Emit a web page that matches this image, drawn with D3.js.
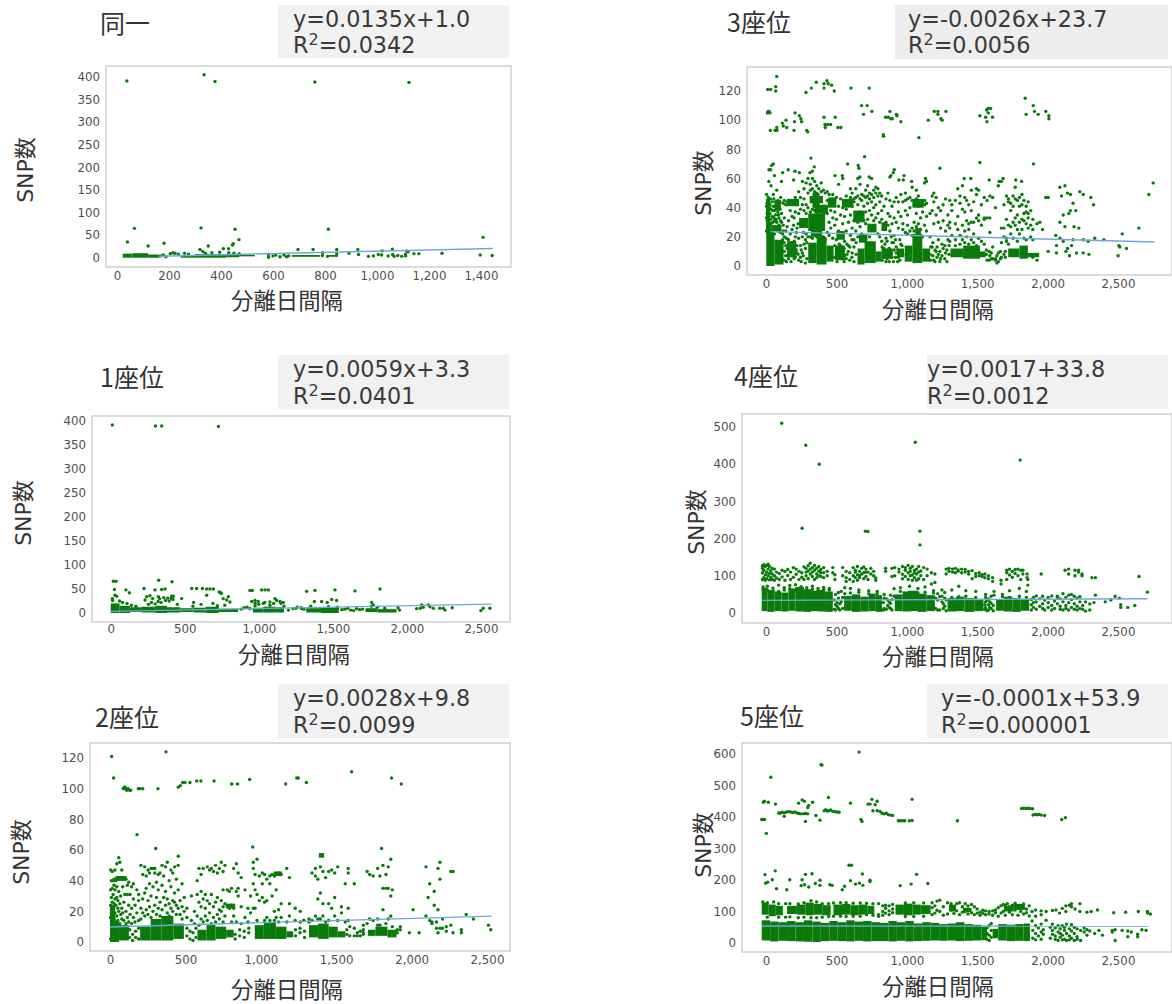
<!DOCTYPE html>
<html lang="ja">
<head>
<meta charset="UTF-8">
<title>分離日間隔とSNP数</title>
<script src="https://d3js.org/d3.v7.min.js"></script>
<style>
  body { margin: 0; background: #fff; }
  svg { display: block; }
  .tick text { font-family: "DejaVu Sans", sans-serif; font-size: 11.8px; fill: #4d4d4d; }
  .head { font-family: "Noto Sans CJK JP", sans-serif; fill: #333; }
  .eq { font-family: "DejaVu Sans", sans-serif; font-size: 22.3px; fill: #3a3a3a; }
</style>
</head>
<body>
<div id="chart"></div>
<script>
// Values. Each scatter row is [x, y, y, ...]; each solid row is
// [x0, x1, y0, y1] for the areas where dots overplot into solid green.
var xTicksA = [0, 200, 400, 600, 800, 1000, 1200, 1400];
var xTicksB = [0, 500, 1000, 1500, 2000, 2500];
var yTicks400 = [0, 50, 100, 150, 200, 250, 300, 350, 400];
var yTicks120 = [0, 20, 40, 60, 80, 100, 120];
var yTicks500 = [0, 100, 200, 300, 400, 500];
var yTicks600 = [0, 100, 200, 300, 400, 500, 600];

var titles = ["同一", "1座位", "2座位", "3座位", "4座位", "5座位"];
var equations = ["y=0.0135x+1.0", "y=0.0059x+3.3", "y=0.0028x+9.8", "y=-0.0026x+23.7", "y=0.0017+33.8", "y=-0.0001x+53.9"];
var r2Values = ["0.0342", "0.0401", "0.0099", "0.0056", "0.0012", "0.000001"];

var trend0 = [[160, 3.2], [1445, 20.5]];
var trend1 = [[0, 3.3], [2570, 18.5]];
var trend2 = [[0, 9.8], [2530, 16.9]];
var trend3 = [[30, 23.6], [2760, 16.5]];
var trend4 = [[0, 33.8], [2740, 38.5]];
var trend5 = [[0, 53.9], [2750, 53.6]];

var solid0 = [[22,60,0,9],[60,120,0,10],[120,165,0,7],[245,300,0,6],[300,420,0,8],[420,470,1,8],[470,530,3,6],[672,780,2,6],[812,850,2,6]];
var dots0 = [[38,391],[335,405],[377,390],[761,389],[1123,388],[67,65],[323,66],[454,63],[813,63],[40,35],[120,26],[181,32],[469,40],[1408,45],
[351,26],[319,18],[409,20],[429,20],[444,28],[447,31],[696,18],[754,18],[845,18],[926,18],[929,7],[892,10],[1020,15],[1059,19],[1114,15],[1120,13],[1110,4,8],
[1142,9],[1161,9],[1250,10],[1397,6],[1443,5],[791,11],[223,10],[236,8],[178,6],[188,2],[169,4],[583,7,1],[611,6],[627,2],[642,6],[652,2],[967,3],[986,4],[1005,7],
[1018,6],[1043,4],[1066,3],[1080,5],[1095,3],[1060,7],[600,4],[660,4],[845,9],[810,3],[790,5],[260,10],[205,9],[215,11],[275,8],[330,14],[365,11],[395,12],[340,10],[430,11],[450,10],[470,9]];

var solid1 = [[0,60,0,20],[60,130,0,15],[130,210,2,12],[210,300,1,13],[300,380,0,15],[380,470,1,12],[470,560,2,10],[560,640,1,11],[640,730,0,13],[730,860,2,9],[960,1030,1,11],[1030,1110,1,13],[1110,1170,1,12],[1320,1420,1,10],[1420,1540,0,11],[1720,1800,2,10],[1800,1930,1,8]];
var dots1 = [[11,391],[302,389],[344,389],[727,388],[18,66],[36,66],[324,68],[414,65],[225,51],[299,48],[344,49],[367,50],[25,49],[103,48],[126,42],[547,51],[580,51],[619,51],
[648,50],[670,50],[693,50],[733,44],[747,41],[940,47],[956,47],[1019,48],[1042,48],[1064,48],[1323,45],[1379,47],[1514,48],[1649,46],[1818,50],
[243,34],[232,27],[265,36],[283,30],[322,34],[330,30],[358,32],[412,35],[423,35],[410,30],[385,31],[479,30],[11,30],[29,37],[40,35],[13,26],[648,37],[738,42],[760,30],[794,34],[783,27],[805,23],
[952,24],[974,26],[996,24],[1030,20],[1109,30],[1120,26],[1143,24],[1165,22],[1375,24],[1424,24],[1462,22],[1492,28],[1525,26],[1762,22],[1773,17],[2099,17],[2144,17],
[2110,12],[2155,13],[2178,10],[2222,10],[2245,10],[2306,11],[2499,5],[2515,10],[2560,10],[2065,9],[2090,10],[2257,6],
[60,25],[80,22],[110,20],[140,16],[170,14],[255,18],[275,22],[300,19],[320,24],[340,22],[370,26],[395,25],[420,28],[410,33],[450,18],[560,22],[555,14],[610,18],[690,20],[720,15],[770,16],
[920,12],[975,20,15],[1000,18],[1040,22],[1075,16,23],[1100,20],[1150,20],[1170,14],[1200,6],[1250,10],[1290,9],[1580,8],[1620,6],[1640,5],[1680,7],[1950,6],[1940,11],[1760,14],[1800,12],[1850,10],
[1230,9],[1260,12],[1285,11],[1305,8],[1560,7],[1600,10],[1660,9],[1700,8],[880,8],[900,11],[940,9],[1530,12],[1350,14],[1470,13]];

var solid2 = [[0,60,0,13],[60,125,1,11],[0,35,13,24],[200,270,1,10],[270,340,1,15],[340,420,1,17],[420,490,2,12],[580,640,1,8],[640,700,1,11],[700,770,2,10],[770,820,3,8],[960,1020,2,11],[1020,1100,2,13],[1100,1170,2,10],[1170,1215,3,7],[1320,1380,3,11],[1380,1450,2,12],[1450,1510,3,10],[1510,1560,3,7],[1710,1760,4,8],[1760,1840,4,10],[1840,1900,3,8],[1385,1420,55,58],[35,110,40,43],[775,830,22,25],[1085,1140,43,46]];
var dots2 = [[11,121],[371,124],[24,107],[179,70],[303,61],[453,56],[946,62],[1801,61],
[88,100],[95,101],[100,101],[105,100],[110,99],[120,100],[130,99],[137,99],[188,100],[199,100],[217,100],[318,100],[453,101],[467,102],[482,104],[497,104],[530,104],[575,105],[603,105],[690,105],[807,103],[846,103],[926,106],[1165,103],[1238,107],[1249,107],[1302,104],[1602,111],[1867,107],[1932,103],
[4,2,16,24,47,34],[9,13,21,29,40],[15,18,26,35,46],[21,12,22,31,40],[27,15,25,37,41],[33,19,28,34,47],[39,13,24,40],[45,17,29,36,51],[52,14,22,41,27],[58,20,33,55],[65,12,25,41,52],[71,18,30,42],[78,15,22,41,47],[84,19,36,42],[92,14,26,41],[98,31,42],[106,12,20,41],[115,16,31,37],[124,13,24,39],[133,18,31],[143,12,22,36],[155,16,28,38],[166,13,24],[178,19,34],[190,14,27,31],
[205,15,22,50],[217,19,28,44],[230,17,32,49],[240,21,35,43],[252,18,27,47],[262,23,38,45],[272,16,30,48],[285,20,36,48],[297,24,45,48],[308,18,29,39],[320,22,34,44],[332,17,26,45],[345,21,37,50],[356,16,29,43],[368,24,33,49],[380,19,28,52],[392,17,25,40],[404,22,36,47],[416,20,27,45],[428,26,32,49],[440,18,24,41],[452,22,34,50],[465,18,27],[478,15,23,38],[492,20,29],[510,16,22],
[540,14,30],[560,12,20],[578,17,31,40],[590,11,26,48],[604,15,23,44,33],[618,13,28,48],[632,17,22,31],[645,14,27,49],[660,19,25,47],[672,12,31,48],[686,16,23,46],[700,13,26,50],[712,18,29,45],[725,15,21,48],[738,20,27,52],[750,13,23,34,46],[762,17,25,50],[778,23,24,34],[792,22,23,33],[806,24,13,35],[820,17,22,48],[838,13,33,51],[850,30,35,45],[870,12,23,42],[895,16,34],
[915,13,22],[932,19,30],[950,38,48,52,22],[962,34,22,44],[975,14,31,54],[990,27,43],[1010,29,45,38],[1025,44,26,14],[1040,41,16,27],[1060,43,38,14],[1075,44,30],[1090,43,20,14],[1102,44,16,34],[1118,45,13,21],[1135,44,16,25],[1172,48,13],[1190,42,17,25],[1228,14,22],[1262,20,13],[1285,14,14],[1320,15,13],
[1340,45,14],[1362,43,17,48],[1378,41,15,28],[1395,49,15,32],[1412,46,25,17],[1430,42,13],[1450,46,25,14],[1470,47,22],[1490,45,17,29],[1510,49,14],[1535,23,19],[1560,38,13],[1580,45,48,22,14],[1620,38,9,4],[1660,4,7],[1680,6,11],[1705,46,12],[1722,44,15],[1745,43,14],[1775,48,15,11],[1790,43,11],[1810,50,21,35],[1830,44,35,12],[1845,35,49,15],[1862,30,54,17],[1872,34,10],[1905,8,6],[1925,8,10],
[1985,6],[2010,21],[2050,6],[2095,49,17],[2110,29],[2120,14,38],[2135,13,12],[2150,33,24],[2165,13,9],[2175,48,21,6],[2188,52,41,9],[2205,15,9],[2230,10,7],[2260,46,11],[2275,46,6],[2330,6,8],[2362,18],[2410,15],[2510,11],[2525,8],
[130,3,8],[150,1,5],[170,7,3],[190,2,9],[510,4,9],[530,2,7],[550,6,1],[570,3,9],[830,5,2],[860,8,4],[890,3,7],[920,6,9],[1230,4,8],[1260,6,9],[1290,3,7],[1570,5,8],[1590,4,10],[1640,4,6],[1680,5,8]];

var solid3 = [[2,60,0,22],[60,125,1,18],[0,40,22,30],[40,110,24,28],[0,30,30,46],[60,105,38,45],[150,215,6,17],[150,235,41,46],[300,360,2,16],[360,430,1,20],[430,480,3,14],[320,400,20,24],[235,300,26,33],[300,420,24,36],[345,440,36,42],[310,405,43,48],[330,380,40,50],[440,500,40,47],[490,560,4,14],[500,560,18,24],[540,620,40,46],[620,700,30,38],[650,700,1,12],[700,780,2,17],[780,820,3,10],[720,785,23,29],[660,720,16,22],[820,900,5,12],[820,860,24,30],[930,980,6,12],[985,1040,3,14],[1040,1110,2,22],[1110,1165,3,12],[1060,1100,22,26],[1040,1120,40,46],[1310,1400,6,12],[1400,1520,5,14],[1520,1560,6,10],[1720,1800,6,12],[1800,1860,5,14],[1860,1940,6,9]];
var dots3 = [[76,130],[12,121],[33,121],[69,123,120],[284,119],[322,122],[357,126],[412,122,125],[433,127],[442,125],[466,124],[485,120],[603,122],[733,122],[679,110],[719,110],[693,104],[752,106],
[10,105],[15,106],[22,106],[28,105],[31,93],[64,93],[76,95],[78,93],[123,96],[116,98],[142,100],[147,95],[199,93],[203,99],[206,105],[237,103],[248,101],[253,99],[289,93],[296,92],
[412,102],[419,97],[421,95],[438,97],[459,97],[492,102],[511,95],[532,95],[833,90],[835,89],[849,102],[868,102],[887,101],[897,101],[880,106],[926,104],[930,103],[958,99],
[1086,88],[1152,100],[1195,106],[1221,106,104],[1278,106],[1242,101],[1251,100],[1519,103],[1567,107],[1576,108],[1595,108],[1578,105],[1560,102],[1609,102],[1569,99],
[1841,115],[1848,104],[1898,110],[1907,106],[1933,104],[1987,106],[2009,103,101],
[319,74],[700,75],[580,70],[655,69],[1519,71],[1900,70],[1235,67],[52,70],[40,69],[21,66],[33,66],[158,66],[118,64],[206,65],[237,64],[343,68],[329,65],[312,64],[490,62],[542,62],[660,67],[911,66],[887,62],[904,64],[880,61],[980,62],[944,59],[667,61],[733,61],[1133,60],[1140,58],[1034,58],[975,59],[1408,60],[1455,60],[1585,59],[1684,60],[1656,58],[1774,59],[1815,58],
[1945,30],[1964,25],[1987,47],[2004,47],[2087,54,30],[2123,55,27],[2099,48],[2141,50],[2162,49,38],[2229,51],[2253,49,18,9],[2307,47],[2326,42],[2181,43,18],[2200,38],[2151,36],[2111,35,17],[2188,27],[2222,26],[2058,21],[2087,19],[2063,14,9],[2004,10],[2130,10],[2142,12],[2155,7],[2170,14],[2205,9],[2293,8],[2288,17],[2335,19],[2400,18],[2530,22],[2648,26],[2719,49],[2750,57],[2506,14],[2513,13],[2560,12],[2501,7],
[4,24,33,41,49],[12,27,38,45],[20,22,31,44,58],[28,25,36,42],[36,29,39,55],[44,23,34,44],[52,27,41,49],[60,22,31,38,62],[68,26,35,44],[76,30,42,52],[84,24,37,45],[92,28,33,41],[100,23,39,44],[110,30,36,58],[122,24,43,28],[130,33,45,20,10],[140,42,24,14,7],[150,44,27,12],[160,31,45,5,18],[172,38,22,44,10],[185,25,34,7,16],[196,43,28,12,59],[208,20,37,6,47],[220,26,42,14,9],[232,36,19,51,4],
[245,39,14,47,6],[258,42,20,58,9],[270,38,15,46,53],[285,36,22,42,57],[298,40,20,50,60],[315,37,20,52,56],[330,19,39,53,60],[345,38,41,51,58],[360,35,20,50,55],[375,37,22,41,53],[392,39,19,51,57],[408,36,20,41,52],[420,40,18,50],[435,36,23,45,51],[448,30,44,49,21],[460,38,26,45],[474,43,33,49,19],[488,28,37,44],[500,32,18,47,9],[515,24,41,56,6],[530,35,14,46,10],[545,29,21,40,60],[558,17,34,44,7],[570,24,39,5,48],[585,14,30,43,10],
[600,21,35,47,53],[612,9,26,41,50],[625,18,31,44,46],[638,24,36,47,53],[652,20,30,42,48,60],[668,27,37,46,56],[680,22,33,45,49],[695,18,31,41,48],[708,29,37,47,52],[722,32,43,48,55],[735,20,38,46,50],[750,35,44,49,60],[765,31,40,47,52],[780,33,42,50,54],[795,22,36,48,53],[808,20,30,44,50],[822,17,32,38,48],[838,12,26,41,6],[852,30,19,46,3],[866,28,36,11,50],[880,24,34,8,45],[895,29,16,41,6],[910,21,33,44,11],[925,13,30,47,9],[940,26,37,6,44],[958,15,34,49,8],
[972,29,44,25,8],[990,23,38,45,50],[1005,28,35,46,22],[1022,24,40,47],[1038,26,21,45,54],[1052,30,24,42],[1068,27,36,46,52],[1082,22,29,41,48],[1098,25,33,43],[1112,20,37,44],[1126,28,42,45,57],[1140,24,34,43],[1165,36,20,8],[1180,13,38,48],[1192,4,29,44,50],[1208,10,35,47],[1224,18,40,8,30],[1240,5,26,38],[1258,12,31,42],[1275,9,24,46],[1292,18,35,28],[1305,17,45,26,30],[1320,21,38,42],
[1345,18,29,45,14],[1362,25,34,53],[1378,21,15,43,48],[1395,28,18,39,55],[1412,24,16,37,47],[1425,20,31,45],[1440,25,15,42,29],[1458,18,38,52,30],[1475,22,16,30,44],[1495,14,33,49,53],[1510,19,31,35,52],[1530,17,28,42],[1550,15,32,47,33],[1570,4,33,45],[1590,7,23,33,48],[1610,13,5,47],[1630,5,4,40],[1650,9,3,55],[1672,16,6,58,26],[1690,20,8,42,26],[1708,19,17,32,48],[1722,15,28,44,46],[1738,22,27,43,38],[1755,19,30,41,48],[1770,28,33,46,54],[1785,17,25,35,45],[1800,30,22,41,47],[1818,25,32,42,49],[1832,19,31,36,45],[1848,18,37,41,29],[1862,26,33,44,36],[1880,20,28,38],[1895,18,25,32,6],[1925,4,8,29],
[8,31,36,43],[16,34,47],[24,29,40],[32,32,46],[48,30,38],[56,33,46],[72,32,40],[88,35,44],[104,31,47],[118,18,22],[128,4,16],[145,3,19],[165,8,12],[178,3,15],[200,5,17,33],[215,11,23],[228,8,29],[250,3,11,30],[265,7,23],[280,2,12,18],[290,5,16],[488,6,14],[505,12,3],[520,15,8],[540,5,11],[555,3,12],[575,8,15],[595,4,13],[610,6,18],[625,3,13],[640,8,16],[825,13,4],[845,9,15],[860,5,17],[875,12,3],[890,9,20],[905,3,16],[920,6,18],[935,11,3],[950,4,18],[965,9,14],[1170,4,13],[1185,7,16],[1200,3,11],[1215,6,13],[1235,10,3],[1250,7,15],[1270,5,14],[1285,11,3],[1300,8,14],[1565,8,11],[1585,10,4],[1600,5,9],[1640,7,2],[1665,10,5],[1700,6,10]];

var solid4 = [[0,40,5,68],[40,90,3,62],[90,140,5,58],[140,190,4,55],[190,240,6,66],[240,300,4,70],[300,350,3,64],[350,400,5,60],[400,450,4,62],[450,505,3,58],[585,640,6,46],[640,700,3,50],[700,760,4,44],[760,810,5,52],[810,855,3,48],[945,1000,5,50],[1000,1060,4,58],[1060,1110,5,60],[1110,1170,3,52],[1170,1230,5,48],[1320,1380,4,40],[1380,1440,5,44],[1440,1510,3,40],[1510,1575,5,38],[1665,1720,6,36],[1720,1780,4,44],[1780,1840,3,40],[1840,1900,6,38]];
var dots4 = [[142,510],[313,451],[409,400],[1091,459],[1836,411],[287,228],[736,220],[754,219],[1124,220,183],
[5,90,108,120,127],[15,95,115,130],[25,88,103,125],[35,92,110,128],[45,100,118,131],[55,89,107,125],[65,96,113],[75,90,120,105],[90,88,100,118],[105,94,110],[125,90,106],[145,97,115],[165,112,88],[185,101,117],[205,90,110],[225,122,96],[245,118,104],[265,90,112],[285,96,108],[300,124,90],[315,110,120,100],[330,92,127,113],[345,118,105,134],[360,98,122,110],[375,115,128,90],[390,105,120,95],[405,125,112,100],[420,117,98,108],[440,122,108,95],[465,100,112],[505,122,108],[520,90,103],
[575,122,100],[600,85,112,95],[625,90,108],[650,100,122,85],[665,95,115,110],[680,125,88,103],[695,112,100,95],[710,120,105],[725,92,108,124],[740,118,98,110],[755,110,90],[775,105,120],[795,100,112],[810,94,88],[880,112,120],[925,120,98],[945,122,100],[975,110,118],[1000,104,125,92],[1020,115,98,122],[1040,128,108,90],[1055,112,120,100],[1070,102,125,88],[1085,115,95,108],[1100,118,105,88],[1115,110,125,92],[1130,100,113],[1150,122,90],[1175,118,100],[1205,108,78],[1230,105,82],
[1310,118,105],[1330,120,112],[1355,118,110],[1375,120,108],[1395,116,112],[1420,118,108],[1445,117,110],[1470,112,105],[1495,114,92],[1520,106,98],[1545,100,108],[1565,98,103],[1585,95,105],[1610,100,92],[1640,95,85],[1700,78,88],[1740,115,108,90],[1760,102,118],[1780,112,96],[1800,117,106],[1820,118,100],[1840,115,90],[1855,115,105],[1885,105,95],[1890,90,75],[1985,105],[2155,115],[2180,118,105],[2225,115,100],[2250,115,110],[2275,105,100],[2345,95],[2370,95],
[2680,98],[2740,56],[2370,48],[2300,5,30],[2330,8,24],[2360,28],[2440,30],[2480,35],[2510,45],[2540,40],[2550,15,22],[2600,15],[2650,20],
[10,64,70],[40,72,62],[80,67,60],[120,75,58],[160,62,68],[200,65,74],[240,76,62],[280,71,65],[320,68,62],[360,72,64],[400,60,66],[440,64,69],[480,62,66],[525,50,22,8],[545,40,12,55],[565,30,58],[590,68,52],[630,66,54],[690,56,62],[760,60,52],[820,58,52],[870,12,40,50],[895,20,35],[915,48,26,12],[940,65,45],[985,68,58],[1050,72,56],[1110,66,54],[1160,70,56],[1220,60,54],[1250,52,35,8],[1280,62,30,45],[1300,55,18,40],
[1350,62,42],[1400,72,44],[1450,60,45],[1520,58,42],[1590,14,30,42,50],[1610,22,38,8],[1630,26,12,45],[1650,48,58],[1710,50,44],[1760,60,42],[1830,66,45],[1880,58,42],[1915,8,22,36],[1930,42,15,28],[1950,30,10,46],[1975,38,18],[1995,25,45,12],[2010,8,35],[2035,28,15,42],[2060,46,20,8],[2080,32,12],[2100,45,25,40],[2120,18,38,10],[2140,30,52,8],[2160,20,42,12],[2180,48,28,8],[2200,36,15,50],[2220,25,45,10],[2240,40,18,8],[2260,30,44,12],[2280,20,10],
[515,10,35],[535,18,28],[555,25,8],[575,12,42],[865,28,8],[885,38,10],[905,15,30],[925,8,36],[1235,12,40],[1265,8,44],[1290,25,12],[1310,35,6],[1585,22,10],[1600,34,6],[1620,15,30],[1645,20,6]];

var solid5 = [[0,60,8,72],[60,120,5,68],[120,180,7,66],[180,240,6,70],[240,300,5,66],[300,360,4,72],[360,420,3,68],[420,480,6,64],[480,540,7,70],[540,600,6,66],[600,660,5,72],[660,720,7,68],[720,780,5,70],[780,840,6,66],[840,900,6,64],[900,960,5,70],[960,1020,7,66],[1020,1080,5,70],[1080,1140,6,62],[1140,1200,7,66],[1200,1260,8,64],[1260,1320,7,60],[1320,1380,8,62],[1380,1440,6,66],[1440,1500,7,60],[1500,1560,8,58],[1560,1600,9,52],[1640,1680,15,45],[1680,1740,8,60],[1740,1800,6,58],[1800,1860,7,60],[1860,1905,6,62],
[0,50,90,128],[50,100,85,122],[100,150,88,118],[180,250,92,118],[250,310,90,122],[310,370,88,128],[370,430,90,124],[430,490,88,120],[510,570,88,122],[570,630,90,124],[630,690,88,120],[690,750,90,122],[750,800,92,118],[950,1010,90,122],[1010,1070,88,125],[1070,1130,90,122],[1130,1200,92,120],[1330,1380,100,122],[1430,1490,98,112],[1720,1790,100,118],[1790,1870,105,124]];
var dots5 = [[692,606],[421,566],[428,565],[65,526],[33,348],[0,392],[10,392],[20,392],[12,447],[20,450],[47,447],[98,441],[121,413],[130,412],[145,415],[160,413,402],[175,416],[190,417],[205,416],[220,414],[235,416],[250,413],[262,444,411],[275,410],[287,454],[295,410],[304,450],[311,386,411],[327,430,410],[334,437],[362,447],[385,405],[414,390],[474,462],
[444,420],[455,423],[465,419],[475,420],[490,422],[505,418],[520,417],[535,416],[550,415],[631,444],[705,392],[712,386],[755,441],[770,441],[783,456],[790,420],[806,439],[820,450,420],[840,418],[855,412],[870,410],[885,412],[900,407],[915,406],[930,405],[970,388],[980,388],[995,388],[1010,388],[1016,388],[1048,388],[1068,389,456],[1390,388],
[1846,427],[1860,428],[1875,427],[1890,428],[1905,427],[1923,426],[1927,406],[1940,408],[1955,407],[1970,408],[1985,406],[2009,405],[2131,392],[2157,398],
[23,217],[28,190],[42,193],[75,201],[96,229],[105,172],[178,169],[199,201],[280,182],[287,201],[311,218],[304,185],[334,178],[357,220],[381,189],[414,199,183],[484,185],[500,183],[572,169],[589,180],[631,198],[620,247],[638,247],[666,187],[694,190],[715,219],[719,183],[769,195,199],[984,182],[1061,187],[1100,218],[1180,189],
[8,130],[40,128,82],[85,130],[120,82,125],[170,125,82],[200,125,83],[260,124,80],[300,128,82],[350,134,80],[390,130,80],[430,125,82],[475,125,84],[510,85,127],[560,128,85],[600,128,84],[650,126,85],[700,85,127],[745,126,90],[790,125,88],[830,125,90,85],[860,118,100,88],[880,95,110,120],[905,90,102,118],[930,96,108,122],[1020,127,84],[1080,128,84],[1150,127,85],[1210,128,90,112],[1230,95,118],[1245,104,133],[1265,100,136],[1290,88,115],[1320,92,128],[1345,125,105],[1365,112,94],[1385,102,125],[1405,128,90],[1425,115,98],[1445,125,100],[1465,118,92],[1490,122,96],[1510,115,90],[1530,108,95],[1550,98,88],[1570,104,94],[1590,102,90],[1615,100,92],[1640,88,102],[1660,96,105],[1680,112,85],[1700,95,118],[1715,122,100],[1730,120,88],[1745,110,125],[1760,98,115],[1780,120,90],[1800,105,126],[1820,118,88],[1840,112,100],[1860,124,92],[1880,108,96],[1900,86,118],[1920,100,70],[1945,105,85],[1985,102,90],[2020,100,72],[2065,103],[2090,105],[2115,95],[2135,110],[2160,100,118],[2185,120],[2200,125,115],[2225,108],[2260,100,125],[2310,98],[2340,100],[2385,105],[2500,96],[2585,98],[2675,100],[2740,100,95],[2760,92],
[2365,30],[2395,40],[2420,25],[2490,40,35],[2510,8,42],[2560,40],[2600,20,38],[2625,35],[2670,28,20],[2700,42],[2730,40],
[1925,40,15],[1945,30,55,10],[1965,48,22],[1985,35,12,60],[2000,42,28],[2050,50,15],[2065,28,40,60],[2085,22,48,12],[2105,35,55,8],[2120,18,45,30],[2135,55,25,10],[2150,40,12,50],[2165,30,60,8],[2185,22,45,10],[2200,38,15,58],[2220,30,50,8],[2240,45,20,12],[2265,40,8],[2290,35,48],[2310,25,42],[2330,38],
[1600,12,30,48],[1615,25,8,55],[1630,40,18,62]];

// layout of each panel in the page
var panels = [
  { frame: [106, 66, 511, 267], x: [117, 481], xMax: 1400, y: [257.7, 77], yMax: 400, xTicks: xTicksA, yTicks: yTicks400, tdx: 0, tpad: 5,
    box: [278, 5, 509, 58], eqX: 293, base: [27, 53], titleAt: [100, 33], xLab: [287, 309], yLab: [33, 170], dots: dots0, solid: solid0, trend: trend0 },
  { frame: [92, 416, 510, 622], x: [110.7, 481], xMax: 2500, y: [613, 420.7], yMax: 400, xTicks: xTicksB, yTicks: yTicks400, tdx: 0, tpad: 3,
    box: [278, 355, 509, 409], eqX: 293, base: [377, 404], titleAt: [100, 387], xLab: [294, 663], yLab: [31, 513], dots: dots1, solid: solid1, trend: trend1 },
  { frame: [90, 743, 510, 951], x: [110, 487], xMax: 2500, y: [942, 758], yMax: 120, xTicks: xTicksB, yTicks: yTicks120, tdx: 0, tpad: 5,
    box: [278, 684, 509, 738], eqX: 293, base: [706, 733], titleAt: [95, 727], xLab: [287, 998], yLab: [29, 852], dots: dots2, solid: solid2, trend: trend2 },
  { frame: [747, 67, 1172, 275], x: [766, 1118], xMax: 2500, y: [266, 91], yMax: 120, xTicks: xTicksB, yTicks: yTicks120, tdx: 0, tpad: 5,
    box: [895, 5, 1168, 59], eqX: 908, base: [27, 53], titleAt: [727, 32], xLab: [938, 318], yLab: [711, 183], dots: dots3, solid: solid3, trend: trend3 },
  { frame: [742, 414, 1172, 623], x: [761.7, 1118 - 4.3], xMax: 2500, y: [613, 427], yMax: 500, xTicks: xTicksB, yTicks: yTicks500, tdx: 4.3, tpad: 5,
    box: [927, 355, 1168, 409], eqX: 927, base: [377, 404], titleAt: [734, 386], xLab: [938, 665], yLab: [704, 522], dots: dots4, solid: solid4, trend: trend4 },
  { frame: [742, 743, 1172, 952], x: [761.7, 1118 - 4.3], xMax: 2500, y: [943, 754], yMax: 600, xTicks: xTicksB, yTicks: yTicks600, tdx: 4.3, tpad: 5,
    box: [927, 684, 1168, 738], eqX: 941, base: [706, 733], titleAt: [740, 726], xLab: [938, 995], yLab: [711, 845], dots: dots5, solid: solid5, trend: trend5 }
];

var svg = d3.select("#chart").append("svg")
  .attr("width", 1172)
  .attr("height", 1004);

panels.forEach(function(p, i) {
  var x = d3.scaleLinear().domain([0, p.xMax]).range(p.x);
  var y = d3.scaleLinear().domain([0, p.yMax]).range(p.y);
  var g = svg.append("g");

  // grey equation box
  g.append("rect")
    .attr("x", p.box[0]).attr("y", p.box[1])
    .attr("width", p.box[2] - p.box[0]).attr("height", p.box[3] - p.box[1])
    .attr("fill", i == 3 ? "#ededed" : "#f1f1f1");

  g.append("text").attr("class", "eq")
    .attr("x", p.eqX).attr("y", p.base[0])
    .text(equations[i]);

  var r2 = g.append("text").attr("class", "eq")
    .attr("x", p.eqX).attr("y", p.base[1]);
  r2.append("tspan").text("R");
  r2.append("tspan").attr("dy", -8).style("font-size", "16px").text("2");
  r2.append("tspan").attr("dy", 8).text("=" + r2Values[i]);

  g.append("text").attr("class", "head")
    .attr("x", p.titleAt[0]).attr("y", p.titleAt[1])
    .style("font-size", "25px")
    .text(titles[i]);

  // plot frame
  g.append("rect")
    .attr("x", p.frame[0]).attr("y", p.frame[1])
    .attr("width", p.frame[2] - p.frame[0]).attr("height", p.frame[3] - p.frame[1])
    .attr("fill", "#fff")
    .attr("stroke", "#cfcfcf")
    .attr("stroke-width", 1.5);

  // axes, labels only
  var xAxis = g.append("g")
    .attr("transform", "translate(" + p.tdx + "," + p.frame[3] + ")")
    .call(d3.axisBottom(x).tickValues(p.xTicks).tickSize(0).tickPadding(p.tpad).tickFormat(d3.format(",")));
  xAxis.select(".domain").remove();

  var yAxis = g.append("g")
    .attr("transform", "translate(" + p.frame[0] + ",0)")
    .call(d3.axisLeft(y).tickValues(p.yTicks).tickSize(0).tickPadding(6));
  yAxis.select(".domain").remove();

  g.append("text").attr("class", "head")
    .attr("x", p.xLab[0]).attr("y", p.xLab[1])
    .attr("text-anchor", "middle")
    .style("font-size", "22.4px")
    .text("分離日間隔");

  g.append("text")
    .attr("transform", "translate(" + p.yLab[0] + "," + p.yLab[1] + ") rotate(-90)")
    .attr("text-anchor", "middle")
    .style("font-family", '"DejaVu Sans", "Noto Sans CJK JP", sans-serif')
    .style("font-size", "22px")
    .attr("fill", "#333")
    .text("SNP数");

  // solid areas first, loose dots on top
  g.selectAll(".solid")
    .data(p.solid)
    .enter()
    .append("rect")
    .attr("class", "solid")
    .attr("x", function(d) { return x(d[0]); })
    .attr("y", function(d) { return y(d[3]); })
    .attr("width", function(d) { return x(d[1]) - x(d[0]); })
    .attr("height", function(d) { return y(d[2]) - y(d[3]); })
    .attr("fill", "#0a7a0a");

  var points = p.dots.flatMap(function(row) {
    return row.slice(1).map(function(v) { return [row[0], v]; });
  });

  g.selectAll(".dot")
    .data(points)
    .enter()
    .append("circle")
    .attr("class", "dot")
    .attr("cx", function(d) { return x(d[0]); })
    .attr("cy", function(d) { return y(d[1]); })
    .attr("r", 1.7)
    .attr("fill", "#0a7a0a");

  // regression line
  g.append("path")
    .datum(p.trend)
    .attr("d", d3.line()
      .x(function(d) { return x(d[0]); })
      .y(function(d) { return y(d[1]); }))
    .attr("fill", "none")
    .attr("stroke", "#6fa8d8")
    .attr("stroke-width", 1.4);
});
</script>
</body>
</html>
